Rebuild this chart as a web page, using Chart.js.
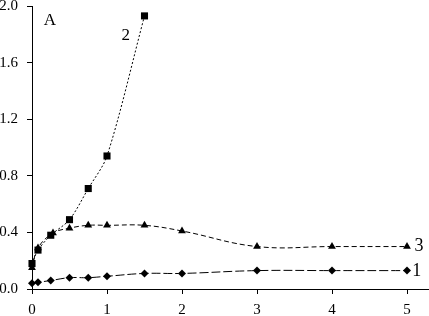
<!DOCTYPE html>
<html>
<head>
<meta charset="utf-8">
<script src="https://cdn.jsdelivr.net/npm/chart.js@4/dist/chart.umd.min.js"></script>
<style>
  html, body { margin: 0; padding: 0; background: #fff; }
  #wrap { width: 429px; height: 316px; }
</style>
</head>
<body>
<div id="wrap"><canvas id="chart" width="429" height="316"></canvas></div>
<script>
// data
const xTicks = [0, 1, 2, 3, 4, 5];
const yTicks = [0, 0.4, 0.8, 1.2, 1.6, 2.0];

const x1 = [0, 0.08, 0.25, 0.5, 0.75, 1, 1.5, 2, 3, 4, 5];
const y1 = [0.04, 0.047, 0.06, 0.08, 0.08, 0.09, 0.11, 0.11, 0.13, 0.13, 0.13];

const x2 = [0, 0.08, 0.25, 0.5, 0.75, 1, 1.5];
const y2 = [0.18, 0.275, 0.38, 0.49, 0.71, 0.94, 1.93];

const x3 = [0, 0.08, 0.28, 0.5, 0.75, 1, 1.5, 2, 3, 4, 5];
const y3 = [0.15, 0.29, 0.395, 0.43, 0.45, 0.45, 0.45, 0.41, 0.30, 0.30, 0.30];

// text marks: [text, x, y, size] in data units
const notes = [
  ['A', 0.24, 1.90, 17],
  ['2', 1.25, 1.79, 17],
  ['3', 5.16, 0.30, 18],
  ['1', 5.13, 0.125, 18]
];

const serif = '"Liberation Serif", "DejaVu Serif", serif';

function pts(xs, ys) {
  return xs.map((x, i) => ({ x: x, y: ys[i] }));
}

function series(xs, ys, style, radius, dash, tension) {
  return {
    data: pts(xs, ys),
    borderColor: '#000',
    backgroundColor: '#000',
    borderWidth: 1,
    borderDash: dash,
    pointStyle: style,
    pointRadius: radius,
    pointBorderWidth: 0,
    tension: tension,
    clip: false
  };
}

const notePlugin = {
  id: 'notes',
  afterDraw(chart) {
    const ctx = chart.ctx;
    const xs = chart.scales.x, ys = chart.scales.y;
    ctx.save();
    ctx.fillStyle = '#000';
    ctx.textAlign = 'center';
    ctx.textBaseline = 'middle';
    notes.forEach(n => {
      ctx.font = n[3] + 'px ' + serif;
      ctx.fillText(n[0], xs.getPixelForValue(n[1]), ys.getPixelForValue(n[2]));
    });
    ctx.restore();
  }
};

function noPad(s) {
  s.paddingTop = 0;
  s.paddingBottom = 0;
  s.paddingLeft = 0;
  s.paddingRight = 0;
}

new Chart(document.getElementById('chart'), {
  type: 'line',
  data: {
    datasets: [
      series(x1, y1, 'rectRot', 4, [9, 3], 0.4),
      series(x2, y2, 'rect', 5, [2, 2], 0.3),
      series(x3, y3, 'triangle', 4.5, [5, 3], 0.4)
    ]
  },
  options: {
    responsive: false,
    animation: false,
    layout: { autoPadding: false, padding: { top: 6, right: 1, left: 0, bottom: 0 } },
    plugins: { legend: { display: false }, tooltip: { enabled: false } },
    scales: {
      x: {
        type: 'linear',
        min: 0,
        max: 5.28,
        afterBuildTicks(s) { s.ticks = xTicks.map(v => ({ value: v })); },
        afterFit(s) { s.height = 27; noPad(s); },
        grid: { drawOnChartArea: false, tickLength: 5, color: '#000' },
        border: { color: '#000', width: 1 },
        ticks: {
          color: '#000',
          padding: 7,
          maxRotation: 0,
          font: { family: serif, size: 15 },
          callback: v => String(v)
        }
      },
      y: {
        min: 0,
        max: 2.0,
        afterBuildTicks(s) { s.ticks = yTicks.map(v => ({ value: v })); },
        afterFit(s) { s.width = 32; noPad(s); },
        grid: { drawOnChartArea: false, tickLength: 5, color: '#000' },
        border: { color: '#000', width: 1 },
        ticks: {
          color: '#000',
          padding: 9,
          font: { family: serif, size: 15 },
          callback: v => v.toFixed(1)
        }
      }
    }
  },
  plugins: [notePlugin]
});
</script>
</body>
</html>
